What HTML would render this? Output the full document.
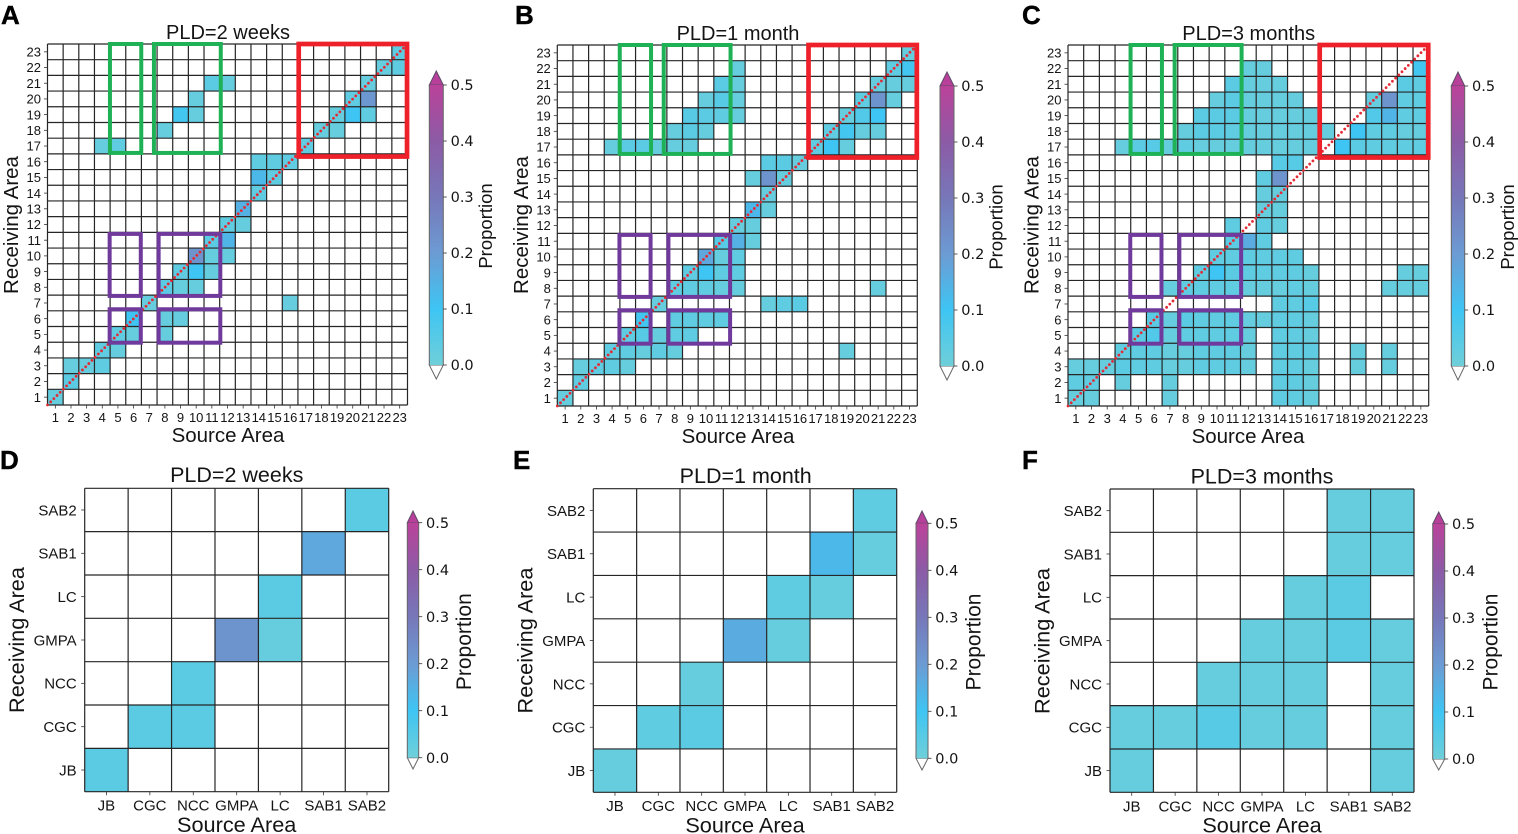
<!DOCTYPE html>
<html lang="en">
<head>
<meta charset="utf-8">
<title>Larval connectivity matrices by pelagic larval duration</title>
<style>
  html, body { margin: 0; padding: 0; background: #fff; }
  body { width: 1518px; height: 834px; overflow: hidden; }
  svg { display: block; }
  text { font-family: "Liberation Sans", Arial, sans-serif; fill: #141414; }
  .cbt { font-family: "DejaVu Sans", sans-serif; }
</style>
</head>
<body>
<svg id="figure" xmlns="http://www.w3.org/2000/svg" width="1518" height="834" viewBox="0 0 1518 834">
  <defs>
    <linearGradient id="cbar-gradient" x1="0" y1="1" x2="0" y2="0"></linearGradient>
  </defs>
</svg>
<script>
// ---------- data: tick labels ----------
const areaTicks = ['1','2','3','4','5','6','7','8','9','10','11','12','13','14','15','16','17','18','19','20','21','22','23'];
const regionTicks = ['JB','CGC','NCC','GMPA','LC','SAB1','SAB2'];
const colorbarTicks = [0, 0.1, 0.2, 0.3, 0.4, 0.5];
const colorbarTickLabels = ['0.0','0.1','0.2','0.3','0.4','0.5'];

// ---------- data: matrices. Rows run top (last receiving area) to bottom (first); columns are source areas in order ----------
const areaMatrix2Weeks = [
/*23*/[0,0,0,0,0, 0,0,0,0,0, 0,0,0,0,0, 0,0,0,0,0, 0,0,.03],
/*22*/[0,0,0,0,0, 0,0,0,0,0, 0,0,0,0,0, 0,0,0,0,0, 0,.02,.03],
/*21*/[0,0,0,0,0, 0,0,0,0,0, .04,.02,0,0,0, 0,0,0,0,0, .02,0,0],
/*20*/[0,0,0,0,0, 0,0,0,0,.02, 0,0,0,0,0, 0,0,0,0,.03, .21,0,0],
/*19*/[0,0,0,0,0, 0,0,0,.09,.02, 0,0,0,0,0, 0,0,0,.02,.10, .03,0,0],
/*18*/[0,0,0,0,0, 0,0,.02,0,0, 0,0,0,0,0, 0,0,.02,.02,0, 0,0,0],
/*17*/[0,0,0,.02,.03, 0,0,0,0,0, 0,0,0,0,0, 0,.03,0,0,0, 0,0,0],
/*16*/[0,0,0,0,0, 0,0,0,0,0, 0,0,0,.03,.03, .03,0,0,0,0, 0,0,0],
/*15*/[0,0,0,0,0, 0,0,0,0,0, 0,0,0,.13,.03, 0,0,0,0,0, 0,0,0],
/*14*/[0,0,0,0,0, 0,0,0,0,0, 0,0,0,.03,0, 0,0,0,0,0, 0,0,0],
/*13*/[0,0,0,0,0, 0,0,0,0,0, 0,0,.15,0,0, 0,0,0,0,0, 0,0,0],
/*12*/[0,0,0,0,0, 0,0,0,0,0, 0,.03,.02,0,0, 0,0,0,0,0, 0,0,0],
/*11*/[0,0,0,0,0, 0,0,0,0,0, .04,.14,0,0,0, 0,0,0,0,0, 0,0,0],
/*10*/[0,0,0,0,0, 0,0,0,0,.22, .02,.02,0,0,0, 0,0,0,0,0, 0,0,0],
/* 9*/[0,0,0,0,0, 0,0,0,.03,.10, .02,0,0,0,0, 0,0,0,0,0, 0,0,0],
/* 8*/[0,0,0,0,0, 0,0,.04,.02,.02, 0,0,0,0,0, 0,0,0,0,0, 0,0,0],
/* 7*/[0,0,0,0,0, 0,.02,0,0,0, 0,0,0,0,0, .02,0,0,0,0, 0,0,0],
/* 6*/[0,0,0,0,0, .10,0,.02,.02,0, 0,0,0,0,0, 0,0,0,0,0, 0,0,0],
/* 5*/[0,0,0,0,.03, .02,0,.02,0,0, 0,0,0,0,0, 0,0,0,0,0, 0,0,0],
/* 4*/[0,0,0,.03,.02, 0,0,0,0,0, 0,0,0,0,0, 0,0,0,0,0, 0,0,0],
/* 3*/[0,.02,.02,.03,0, 0,0,0,0,0, 0,0,0,0,0, 0,0,0,0,0, 0,0,0],
/* 2*/[0,.04,0,0,0, 0,0,0,0,0, 0,0,0,0,0, 0,0,0,0,0, 0,0,0],
/* 1*/[.02,0,0,0,0, 0,0,0,0,0, 0,0,0,0,0, 0,0,0,0,0, 0,0,0]
];
const areaMatrix1Month = [
/*23*/[0,0,0,0,0, 0,0,0,0,0, 0,0,0,0,0, 0,0,0,0,0, 0,0,.02],
/*22*/[0,0,0,0,0, 0,0,0,0,0, 0,.02,0,0,0, 0,0,0,0,0, 0,.03,.09],
/*21*/[0,0,0,0,0, 0,0,0,0,0, .04,.02,0,0,0, 0,0,0,0,0, .02,.02,.02],
/*20*/[0,0,0,0,0, 0,0,0,0,.02, .05,.02,0,0,0, 0,0,0,0,.03, .22,.02,0],
/*19*/[0,0,0,0,0, 0,0,0,.05,.04, .03,.02,0,0,0, 0,0,0,.02,.06, .10,0,0],
/*18*/[0,0,0,0,0, 0,0,.02,.04,.02, 0,0,0,0,0, 0,0,.03,.09,.02, .02,0,0],
/*17*/[0,0,0,.02,.04, .04,.02,.02,.02,0, 0,0,0,0,0, 0,.03,.10,.02,0, 0,0,0],
/*16*/[0,0,0,0,0, 0,0,0,0,0, 0,0,0,.04,.04, .02,0,0,0,0, 0,0,0],
/*15*/[0,0,0,0,0, 0,0,0,0,0, 0,0,.02,.22,.02, 0,0,0,0,0, 0,0,0],
/*14*/[0,0,0,0,0, 0,0,0,0,0, 0,0,0,.02,0, 0,0,0,0,0, 0,0,0],
/*13*/[0,0,0,0,0, 0,0,0,0,0, 0,0,.13,.02,0, 0,0,0,0,0, 0,0,0],
/*12*/[0,0,0,0,0, 0,0,0,0,0, 0,.02,.02,0,0, 0,0,0,0,0, 0,0,0],
/*11*/[0,0,0,0,0, 0,0,0,0,0, .05,.15,.02,0,0, 0,0,0,0,0, 0,0,0],
/*10*/[0,0,0,0,0, 0,0,0,0,.17, .02,.03,0,0,0, 0,0,0,0,0, 0,0,0],
/* 9*/[0,0,0,0,0, 0,0,0,.03,.10, .03,.03,0,0,0, 0,0,0,0,0, 0,0,0],
/* 8*/[0,0,0,0,0, 0,0,.03,.03,.03, .02,.02,0,0,0, 0,0,0,0,0, .02,0,0],
/* 7*/[0,0,0,0,0, 0,.02,0,0,0, 0,0,0,.02,.03, .04,0,0,0,0, 0,0,0],
/* 6*/[0,0,0,0,0, .09,0,.03,.03,.03, .03,0,0,0,0, 0,0,0,0,0, 0,0,0],
/* 5*/[0,0,0,0,.03, .05,.02,.03,.03,0, 0,0,0,0,0, 0,0,0,0,0, 0,0,0],
/* 4*/[0,0,0,.03,.03, .02,.03,.02,0,0, 0,0,0,0,0, 0,0,0,.02,0, 0,0,0],
/* 3*/[0,.02,.03,.03,.02, 0,0,0,0,0, 0,0,0,0,0, 0,0,0,0,0, 0,0,0],
/* 2*/[0,.03,0,0,0, 0,0,0,0,0, 0,0,0,0,0, 0,0,0,0,0, 0,0,0],
/* 1*/[.02,0,0,0,0, 0,0,0,0,0, 0,0,0,0,0, 0,0,0,0,0, 0,0,0]
];
const areaMatrix3Months = [
/*23*/[0,0,0,0,0, 0,0,0,0,0, 0,0,0,0,0, 0,0,0,0,0, 0,0,0],
/*22*/[0,0,0,0,0, 0,0,0,0,0, 0,.02,.02,0,0, 0,0,0,0,0, 0,0,.09],
/*21*/[0,0,0,0,0, 0,0,0,0,0, .04,.02,.02,.02,0, 0,0,0,0,0, 0,.04,.03],
/*20*/[0,0,0,0,0, 0,0,0,0,.02, .04,.02,.02,.02,.02, 0,0,0,0,.02, .22,.03,.03],
/*19*/[0,0,0,0,0, 0,0,0,.04,.04, .04,.02,.02,.02,.02, .02,0,0,0,.06, .14,.03,.03],
/*18*/[0,0,0,0,0, 0,0,.02,.04,.04, .03,.02,.02,.02,.02, .02,.02,0,.10,.03, .03,.02,.02],
/*17*/[0,0,0,.02,.04, .05,.02,.03,.02,.02, .02,.02,.02,.02,.02, .02,0,.10,.04,.03, .03,.03,.03],
/*16*/[0,0,0,0,0, 0,0,0,0,0, 0,0,0,.05,.05, 0,0,0,0,0, 0,0,0],
/*15*/[0,0,0,0,0, 0,0,0,0,0, 0,0,.03,.22,0, 0,0,0,0,0, 0,0,0],
/*14*/[0,0,0,0,0, 0,0,0,0,0, 0,0,.02,.02,0, 0,0,0,0,0, 0,0,0],
/*13*/[0,0,0,0,0, 0,0,0,0,0, 0,0,.02,.02,0, 0,0,0,0,0, 0,0,0],
/*12*/[0,0,0,0,0, 0,0,0,0,0, .03,0,.03,.02,0, 0,0,0,0,0, 0,0,0],
/*11*/[0,0,0,0,0, 0,0,0,0,0, .04,.16,.03,0,0, 0,0,0,0,0, 0,0,0],
/*10*/[0,0,0,0,0, 0,0,0,0,.03, .03,.03,.03,.03,.03, 0,0,0,0,0, 0,0,0],
/* 9*/[0,0,0,0,0, 0,0,0,.03,.10, .04,.03,.03,.03,.03, .02,0,0,0,0, 0,.02,.02],
/* 8*/[0,0,0,0,0, 0,.02,.03,.03,.03, .03,.02,.02,.02,.03, .02,0,0,0,0, .02,.02,.02],
/* 7*/[0,0,0,0,0, 0,0,0,0,0, 0,0,0,.03,.03, .05,0,0,0,0, 0,0,0],
/* 6*/[0,0,0,0,0, .04,.02,.04,.03,.03, .03,.02,.02,.03,.03, .02,0,0,0,0, 0,0,0],
/* 5*/[0,0,0,0,.04, .06,.02,.03,.03,.03, .03,.02,0,.03,.03, .02,0,0,0,0, 0,0,0],
/* 4*/[0,0,0,.03,.03, .03,.02,.02,.03,.03, .03,.02,0,.03,.03, .03,0,0,.02,0, .02,0,0],
/* 3*/[.02,.02,.02,.04,.03, .03,.02,.02,.03,.03, .03,.02,0,.03,.03, .02,0,0,.02,0, .02,0,0],
/* 2*/[.03,.03,0,.02,0, 0,.02,0,0,0, 0,0,0,.03,.03, .02,0,0,0,0, 0,0,0],
/* 1*/[.02,.02,0,0,0, 0,.02,0,0,0, 0,0,0,.03,.03, .02,0,0,0,0, 0,0,0]
];
const regionMatrix2Weeks = [
/*SAB2*/[0,0,0,0,0,0,.04],
/*SAB1*/[0,0,0,0,0,.17,0],
/*LC  */[0,0,0,0,.04,0,0],
/*GMPA*/[0,0,0,.22,.02,0,0],
/*NCC */[0,0,.04,0,0,0,0],
/*CGC */[0,.04,.04,0,0,0,0],
/*JB  */[.04,0,0,0,0,0,0]
];
const regionMatrix1Month = [
/*SAB2*/[0,0,0,0,0,0,.03],
/*SAB1*/[0,0,0,0,0,.13,.02],
/*LC  */[0,0,0,0,.03,.02,0],
/*GMPA*/[0,0,0,.16,.02,0,0],
/*NCC */[0,0,.02,0,0,0,0],
/*CGC */[0,.03,.04,0,0,0,0],
/*JB  */[.02,0,0,0,0,0,0]
];
const regionMatrix3Months = [
/*SAB2*/[0,0,0,0,0,.02,.02],
/*SAB1*/[0,0,0,0,0,.02,.02],
/*LC  */[0,0,0,0,.02,.04,0],
/*GMPA*/[0,0,0,.02,.02,.04,.02],
/*NCC */[0,0,.02,.02,.02,0,.02],
/*CGC */[.02,.02,.05,.02,.02,0,.02],
/*JB  */[.02,0,0,0,0,0,.02]
];

// ---------- colour scale ----------
const scaleStops = [0, 0.1, 0.2, 0.3, 0.4, 0.5];
const scaleColors = ['#6fcfd9', '#3ec5f3', '#6c9bd3', '#7777b9', '#8c5ba6', '#bb429a'];

// ---------- layout ----------
const NS = 'http://www.w3.org/2000/svg';
const root = document.getElementById('figure');

function hexToRgb(h) {
  return [parseInt(h.slice(1, 3), 16), parseInt(h.slice(3, 5), 16), parseInt(h.slice(5, 7), 16)];
}
function colorFor(v) {
  const t = Math.min(Math.max(v, scaleStops[0]), scaleStops[scaleStops.length - 1]);
  let i = 0;
  while (i < scaleStops.length - 2 && t > scaleStops[i + 1]) i++;
  const f = (t - scaleStops[i]) / (scaleStops[i + 1] - scaleStops[i]);
  const a = hexToRgb(scaleColors[i]);
  const b = hexToRgb(scaleColors[i + 1]);
  return 'rgb(' + a.map(function (c, k) { return Math.round(c + (b[k] - c) * f); }).join(',') + ')';
}
function make(tag, attrs, parent) {
  const el = document.createElementNS(NS, tag);
  Object.keys(attrs).forEach(function (k) { el.setAttribute(k, attrs[k]); });
  (parent || root).appendChild(el);
  return el;
}

const gradient = document.getElementById('cbar-gradient');
scaleStops.forEach(function (s, i) {
  const stop = document.createElementNS(NS, 'stop');
  stop.setAttribute('offset', (s - scaleStops[0]) / (scaleStops[scaleStops.length - 1] - scaleStops[0]));
  stop.setAttribute('stop-color', scaleColors[i]);
  gradient.appendChild(stop);
});

const annotationBoxes = [
  { name: 'green-box-source-5-6', color: '#1fb156', w: 4, x0: 3.99, x1: 5.99, y0: 0, y1: 6.94 },
  { name: 'green-box-source-8-11', color: '#1fb156', w: 4, x0: 6.8, x1: 11.07, y0: 0, y1: 6.94 },
  { name: 'purple-box-upper-left', color: '#70399c', w: 4, x0: 3.97, x1: 5.96, y0: 12.1, y1: 16.05 },
  { name: 'purple-box-upper-right', color: '#70399c', w: 4, x0: 7.1, x1: 11.04, y0: 12.1, y1: 16.05 },
  { name: 'purple-box-lower-left', color: '#70399c', w: 4, x0: 3.97, x1: 5.96, y0: 16.9, y1: 19.03 },
  { name: 'purple-box-lower-right', color: '#70399c', w: 4, x0: 7.1, x1: 11.04, y0: 16.9, y1: 19.03 },
  { name: 'red-box-source-17-23', color: '#ee2029', w: 4.7, x0: 16.05, x1: 22.97, y0: 0, y1: 7.17 }
];

const panels = [
  { id: 'a', letter: 'A', lx: 1, ly: 24, title: 'PLD=2 weeks', matrix: areaMatrix2Weeks, ticks: areaTicks,
    x0: 47.5, x1: 407.5, y0: 44, y1: 405, tx: 228, ty: 39, sx: 228, sy: 442, rx: 18, ry: 225, px: 492, py: 226,
    cx0: 429.3, cx1: 443.3, c5: 85, c0: 365, tipT: 71, tipB: 379, tf: 13, lf: 20.5, hf: 20, pf: 18.5, tickBase: 422, diag: true },
  { id: 'b', letter: 'B', lx: 515, ly: 24, title: 'PLD=1 month', matrix: areaMatrix1Month, ticks: areaTicks,
    x0: 557.3, x1: 917.3, y0: 45, y1: 406, tx: 738, ty: 40, sx: 738, sy: 443, rx: 528, ry: 225, px: 1002.5, py: 227,
    cx0: 940, cx1: 954, c5: 86, c0: 366, tipT: 72, tipB: 380, tf: 13, lf: 20.5, hf: 20, pf: 18.5, tickBase: 423, diag: true },
  { id: 'c', letter: 'C', lx: 1022, ly: 24, title: 'PLD=3 months', matrix: areaMatrix3Months, ticks: areaTicks,
    x0: 1068, x1: 1428.7, y0: 45, y1: 406, tx: 1248.7, ty: 40, sx: 1248, sy: 443, rx: 1038.7, ry: 225, px: 1514, py: 227,
    cx0: 1451.3, cx1: 1464.7, c5: 86, c0: 366, tipT: 72, tipB: 380, tf: 13, lf: 20.5, hf: 20, pf: 18.5, tickBase: 423, diag: true },
  { id: 'd', letter: 'D', lx: 0, ly: 469, title: 'PLD=2 weeks', matrix: regionMatrix2Weeks, ticks: regionTicks,
    x0: 84.7, x1: 388.7, y0: 488.3, y1: 791.7, tx: 236.7, ty: 482, sx: 236.7, sy: 832, rx: 24, ry: 640, px: 471, py: 641.7,
    cx0: 407.3, cx1: 418.7, c5: 522.7, c0: 757.7, tipT: 511, tipB: 769, tf: 15, lf: 21.7, hf: 21.5, pf: 21, tickBase: 810.7, diag: false },
  { id: 'e', letter: 'E', lx: 513, ly: 469, title: 'PLD=1 month', matrix: regionMatrix1Month, ticks: regionTicks,
    x0: 593.3, x1: 896.7, y0: 488.7, y1: 792.3, tx: 745.7, ty: 483, sx: 745, sy: 832.5, rx: 532.7, ry: 640.5, px: 980.5, py: 642,
    cx0: 916, cx1: 928, c5: 523.3, c0: 758.3, tipT: 511, tipB: 770, tf: 15, lf: 21.7, hf: 21.5, pf: 21, tickBase: 811, diag: false },
  { id: 'f', letter: 'F', lx: 1022, ly: 469, title: 'PLD=3 months', matrix: regionMatrix3Months, ticks: regionTicks,
    x0: 1110, x1: 1414, y0: 489, y1: 792.3, tx: 1262, ty: 483.7, sx: 1262, sy: 832.7, rx: 1049.7, ry: 641, px: 1497.5, py: 642,
    cx0: 1432.7, cx1: 1444.7, c5: 524, c0: 759, tipT: 512, tipB: 770, tf: 15, lf: 21.7, hf: 21.5, pf: 21, tickBase: 811.5, diag: false }
];

panels.forEach(function (p) {
  const n = p.ticks.length;
  const xScale = function (i) { return p.x0 + (p.x1 - p.x0) * i / n; };
  const yScale = function (i) { return p.y0 + (p.y1 - p.y0) * i / n; };
  const barScale = function (v) { return p.c0 + (p.c5 - p.c0) * v / 0.5; };

  const g = make('g', {});
  
  

  const letter = make('text', { x: p.lx, y: p.ly, 'font-size': 26, 'font-weight': 'bold', style: 'fill:#000;stroke:#000;stroke-width:0.4' }, g);
  letter.textContent = p.letter;
  
  

  const title = make('text', { x: p.tx, y: p.ty, 'font-size': p.hf, 'text-anchor': 'middle' }, g);
  title.textContent = p.title;
  
  

  // heatmap cells
  const cells = make('g', {}, g);
  
  
  p.matrix.forEach(function (row, r) {
    row.forEach(function (v, c) {
      if (!(v > 0)) return;
      const cell = make('rect', {
        x: xScale(c), y: yScale(r),
        width: xScale(c + 1) - xScale(c), height: yScale(r + 1) - yScale(r),
        fill: colorFor(v)
      }, cells);
      
      
    });
  });

  // grid lines
  const grid = make('g', { stroke: '#262626', 'stroke-width': 1.2, fill: 'none' }, g);
  
  
  for (let i = 0; i <= n; i++) {
    make('line', { x1: xScale(i), x2: xScale(i), y1: p.y0, y2: p.y1 }, grid);
    make('line', { x1: p.x0, x2: p.x1, y1: yScale(i), y2: yScale(i) }, grid);
  }

  // x ticks and labels
  p.ticks.forEach(function (label, i) {
    const cx = (xScale(i) + xScale(i + 1)) / 2;
    const tick = make('line', { x1: cx, x2: cx, y1: p.y1, y2: p.y1 + 3.5, stroke: '#333', 'stroke-width': 0.8 }, g);
    
    
    const t = make('text', { x: cx, y: p.tickBase, 'font-size': p.tf, 'text-anchor': 'middle' }, g);
    t.textContent = label;
    
    
  });

  // y ticks and labels
  p.ticks.forEach(function (label, i) {
    const cy = (yScale(n - 1 - i) + yScale(n - i)) / 2;
    const tick = make('line', { x1: p.x0 - 3.5, x2: p.x0, y1: cy, y2: cy, stroke: '#333', 'stroke-width': 0.8 }, g);
    
    
    const t = make('text', { x: p.x0 - (n > 10 ? 6.5 : 8), y: cy + p.tf * 0.36, 'font-size': p.tf, 'text-anchor': 'end' }, g);
    t.textContent = label;
    
    
  });

  const xTitle = make('text', { x: p.sx, y: p.sy, 'font-size': p.lf, 'text-anchor': 'middle' }, g);
  xTitle.textContent = 'Source Area';
  
  

  const yTitle = make('text', { x: 0, y: 0, 'font-size': p.lf, 'text-anchor': 'middle', transform: 'translate(' + p.rx + ' ' + p.ry + ') rotate(-90)' }, g);
  yTitle.textContent = 'Receiving Area';
  
  

  // annotations on the 23-area panels
  if (p.diag) {
    const diag = make('line', {
      x1: p.x0, y1: p.y1, x2: p.x1, y2: p.y0,
      stroke: '#e22b37', 'stroke-width': 2.8, 'stroke-linecap': 'round', 'stroke-dasharray': '0 4.5'
    }, g);
    
    

    annotationBoxes.forEach(function (b) {
      const box = make('rect', {
        x: xScale(b.x0), y: yScale(b.y0),
        width: xScale(b.x1) - xScale(b.x0), height: yScale(b.y1) - yScale(b.y0),
        fill: 'none', stroke: b.color, 'stroke-width': b.w
      }, g);
      
      
    });
  }

  // colour bar
  const bar = make('g', {}, g);
  
  
  const mid = (p.cx0 + p.cx1) / 2;
  const topTip = make('polygon', { points: p.cx0 + ',' + p.c5 + ' ' + mid + ',' + p.tipT + ' ' + p.cx1 + ',' + p.c5, fill: '#b8409a', stroke: '#5c4a66', 'stroke-width': 1 }, bar);
  
  
  const bottomTip = make('polygon', { points: p.cx0 + ',' + p.c0 + ' ' + mid + ',' + p.tipB + ' ' + p.cx1 + ',' + p.c0, fill: '#fff', stroke: '#666', 'stroke-width': 1 }, bar);
  
  
  const ramp = make('rect', { x: p.cx0, y: p.c5, width: p.cx1 - p.cx0, height: p.c0 - p.c5, fill: 'url(#cbar-gradient)' }, bar);
  
  
  make('line', { x1: p.cx0, x2: p.cx0, y1: p.c5, y2: p.c0, stroke: '#666', 'stroke-width': 1 }, bar);
  make('line', { x1: p.cx1, x2: p.cx1, y1: p.c5, y2: p.c0, stroke: '#666', 'stroke-width': 1 }, bar);

  colorbarTicks.forEach(function (v, i) {
    const cy = barScale(v);
    const tick = make('line', { x1: p.cx1, x2: p.cx1 + 3.5, y1: cy, y2: cy, stroke: '#333', 'stroke-width': 0.8 }, bar);
    
    
    const t = make('text', { x: p.cx1 + 7.3, y: cy + 5.2, 'font-size': 14.5, 'class': 'cbt' }, bar);
    t.textContent = colorbarTickLabels[i];
    
    
  });

  const barTitle = make('text', { x: 0, y: 0, 'font-size': p.pf, 'text-anchor': 'middle', transform: 'translate(' + p.px + ' ' + p.py + ') rotate(-90)' }, g);
  barTitle.textContent = 'Proportion';
  
  
});
</script>
</body>
</html>
